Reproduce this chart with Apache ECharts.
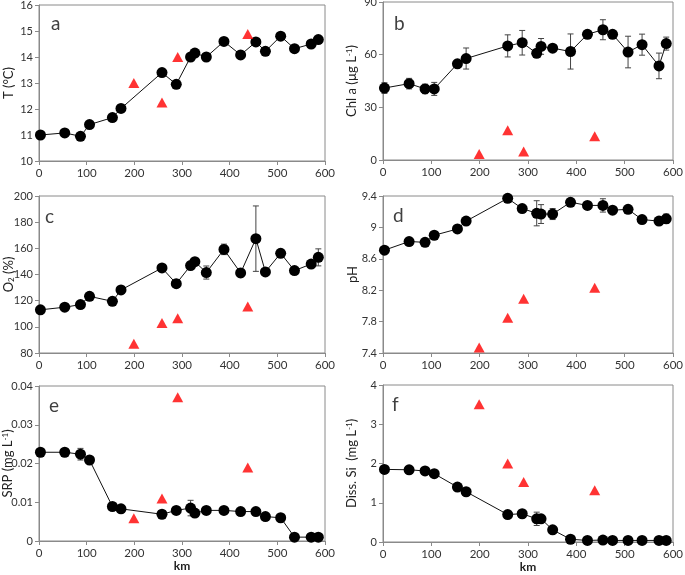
<!DOCTYPE html>
<html><head><meta charset="utf-8">
<script src="https://cdn.jsdelivr.net/npm/echarts@6/dist/echarts.min.js"></script>
<style>html,body{margin:0;padding:0;background:#fff}#c{width:685px;height:575px}</style>
</head><body><div id="c"></div><script>
// Station positions (km) and the four red-triangle sites
const km = [3, 54, 87, 106, 154, 172, 258, 288, 318, 327, 351, 388, 423, 455, 475, 507, 536, 571, 586];
const redKm = [199, 258, 291, 438];

// a: Temperature
const tempVals = [11.0, 11.08, 10.95, 11.4, 11.67, 12.02, 13.4, 12.95, 14.0, 14.15, 14.0, 14.6, 14.08, 14.58, 14.22, 14.8, 14.32, 14.5, 14.67];
const tempErr  = [0,0,0,0,0,0,0,0,0,0,0,0,0,0,0,0,0,0,0];
const tempRed  = [13.0, 12.25, 14.0, 14.88];

// b: Chl a
const chlVals = [41, 43.5, 40.5, 40.5, 54.8, 57.8, 65, 66.8, 60.8, 64.7, 63.7, 61.8, 71.6, 74.2, 71.6, 61.5, 65.7, 53.6, 66.3];
const chlErr  = [3, 3, 2.7, 3.7, 2, 6, 6.3, 7, 2, 4.5, 1, 10, 1.7, 5.7, 1.6, 9, 6, 7.3, 3.7];
const chlRed  = [3.4, 16.9, 4.9, 13.5];

// c: O2 saturation
const o2Vals = [113, 115, 117, 123.3, 119.5, 128.2, 145, 133, 146.8, 149.8, 141.5, 159.2, 141.2, 167.4, 142, 156.2, 143, 148, 153.1];
const o2Err  = [1, 0.5, 1, 2.5, 1.5, 1, 1, 2.5, 3, 2, 5, 4, 3, 25, 2.5, 3, 1, 1, 6.5];
const o2Red  = [87, 103, 106.5, 115.5];

// d: pH
const phVals = [8.71, 8.82, 8.81, 8.90, 8.98, 9.08, 9.37, 9.24, 9.18, 9.17, 9.17, 9.32, 9.28, 9.28, 9.22, 9.23, 9.10, 9.08, 9.11];
const phErr  = [0.03, 0.04, 0.01, 0.01, 0.01, 0.01, 0.01, 0.02, 0.16, 0.12, 0.07, 0.04, 0.01, 0.085, 0.01, 0.01, 0.01, 0.01, 0.06];
const phRed  = [7.47, 7.85, 8.09, 8.23];

// e: SRP
const srpVals = [0.0229, 0.0229, 0.0224, 0.0209, 0.0089, 0.0083, 0.0069, 0.0079, 0.0085, 0.0072, 0.0079, 0.0079, 0.0076, 0.0076, 0.0063, 0.006, 0.001, 0.001, 0.001];
const srpErr  = [0.0005, 0, 0.0015, 0, 0, 0, 0, 0, 0.002, 0.0005, 0, 0, 0, 0, 0, 0, 0, 0, 0];
const srpRed  = [0.0059, 0.011, 0.0371, 0.019];

// f: Dissolved Si
const siVals = [1.85, 1.84, 1.81, 1.74, 1.40, 1.28, 0.70, 0.72, 0.59, 0.59, 0.31, 0.07, 0.04, 0.05, 0.04, 0.04, 0.04, 0.04, 0.04];
const siErr  = [0, 0, 0, 0, 0, 0, 0.03, 0.05, 0.17, 0.05, 0, 0, 0, 0, 0, 0, 0, 0, 0];
const siRed  = [3.51, 2.0, 1.53, 1.32];

const panels = [
  {letter:'a', vals:tempVals, err:tempErr, red:tempRed, min:10, max:16, interval:1, name:'{n|T (°C)}',
   grid:{left:39, top:5, width:286, height:156}, lp:[51,14]},
  {letter:'b', vals:chlVals, err:chlErr, red:chlRed, min:0, max:90, interval:30, name:'{n|Chl a (µg L}{sup|-1}{n|)}',
   grid:{left:383, top:2, width:290, height:158}, lp:[394,14]},
  {letter:'c', vals:o2Vals, err:o2Err, red:o2Red, min:80, max:200, interval:20, name:'{n|O}{sub|2}{n| (%)}',
   grid:{left:39, top:196, width:286, height:157}, lp:[45,207]},
  {letter:'d', vals:phVals, err:phErr, red:phRed, min:7.4, max:9.4, interval:0.4, name:'{n|pH}',
   grid:{left:383, top:196, width:290, height:157}, lp:[393,206]},
  {letter:'e', vals:srpVals, err:srpErr, red:srpRed, min:0, max:0.04, interval:0.01, name:'{n|SRP (mg L}{sup|-1}{n|)}',
   grid:{left:39, top:386, width:286, height:155}, lp:[49,396], xname:'km'},
  {letter:'f', vals:siVals, err:siErr, red:siRed, min:0, max:4, interval:1, name:'{n|Diss. Si  (mg L}{sup|-1}{n|)}',
   grid:{left:383, top:385, width:290, height:157}, lp:[392,395], xname:'km'}
];

const FONT = 'Lato, "Open Sans", sans-serif';
const grids = [], xAxes = [], yAxes = [], series = [], graphics = [];

function errItem(params, api) {
  const x = api.value(0), lo = api.value(1), hi = api.value(2);
  const a = api.coord([x, hi]), b = api.coord([x, lo]);
  const w = 3;
  const st = {stroke:'#444', lineWidth:1};
  return {type:'group', children:[
    {type:'line', shape:{x1:a[0], y1:a[1], x2:b[0], y2:b[1]}, style:st},
    {type:'line', shape:{x1:a[0]-w, y1:a[1], x2:a[0]+w, y2:a[1]}, style:st},
    {type:'line', shape:{x1:b[0]-w, y1:b[1], x2:b[0]+w, y2:b[1]}, style:st}
  ]};
}

panels.forEach((p, i) => {
  grids.push(Object.assign({show:true, borderColor:'#8a8a8a', borderWidth:1, backgroundColor:'transparent', containLabel:false, outerBoundsMode:'none'}, p.grid));
  xAxes.push({
    gridIndex:i, type:'value', min:0, max:600, interval:100,
    name:p.xname || '', nameLocation:'middle', nameGap:19,
    nameTextStyle:{fontFamily:FONT, fontSize:12, fontWeight:'bold', color:'#222'},
    axisLine:{show:true, lineStyle:{color:'#8a8a8a'}},
    axisTick:{show:true, inside:false, length:4, lineStyle:{color:'#8a8a8a'}},
    axisLabel:{fontFamily:FONT, fontSize:11.5, color:'#333', margin:6},
    splitLine:{show:false}
  });
  yAxes.push({
    gridIndex:i, type:'value', min:p.min, max:p.max, interval:p.interval,
    name:p.name, nameLocation:'middle', nameGap:24, nameMoveOverlap:false,
    nameTextStyle:{fontFamily:FONT, fontSize:13, color:'#222',
      rich:{n:{fontFamily:FONT, fontSize:13, color:'#222'},
            sup:{fontFamily:FONT, fontSize:8, color:'#222', verticalAlign:'top', lineHeight:14},
            sub:{fontFamily:FONT, fontSize:8, color:'#222', verticalAlign:'bottom', lineHeight:10}}},
    axisLine:{show:true, lineStyle:{color:'#8a8a8a'}},
    axisTick:{show:true, inside:false, length:4, lineStyle:{color:'#8a8a8a'}},
    axisLabel:{fontFamily:FONT, fontSize:11, color:'#333', margin:6},
    splitLine:{show:false}
  });
  const errData = [];
  p.vals.forEach((v, j) => { if (p.err[j] > 0) errData.push([km[j], v - p.err[j], v + p.err[j]]); });
  series.push({
    type:'custom', xAxisIndex:i, yAxisIndex:i, coordinateSystem:'cartesian2d',
    renderItem:errItem, data:errData, encode:{x:0, y:[1,2]}, z:1, silent:true
  });
  series.push({
    type:'line', xAxisIndex:i, yAxisIndex:i, data:km.map((k, j) => [k, p.vals[j]]),
    symbol:'circle', symbolSize:11, showSymbol:true,
    lineStyle:{color:'#111', width:1}, itemStyle:{color:'#000'}, z:2, animation:false
  });
  series.push({
    type:'scatter', xAxisIndex:i, yAxisIndex:i, data:redKm.map((k, j) => [k, p.red[j]]),
    symbol:'triangle', symbolSize:[11, 10], itemStyle:{color:'#ff0000'}, z:3, animation:false
  });
  graphics.push({type:'text', left:p.lp[0], top:p.lp[1],
    style:{text:p.letter, font:'19px ' + FONT, fill:'#404040'}});
});

const chart = echarts.init(document.getElementById('c'), null, {renderer:'canvas'});
chart.setOption({
  animation:false,
  backgroundColor:'#fff',
  grid:grids, xAxis:xAxes, yAxis:yAxes, series:series, graphic:graphics
});
</script></body></html>
